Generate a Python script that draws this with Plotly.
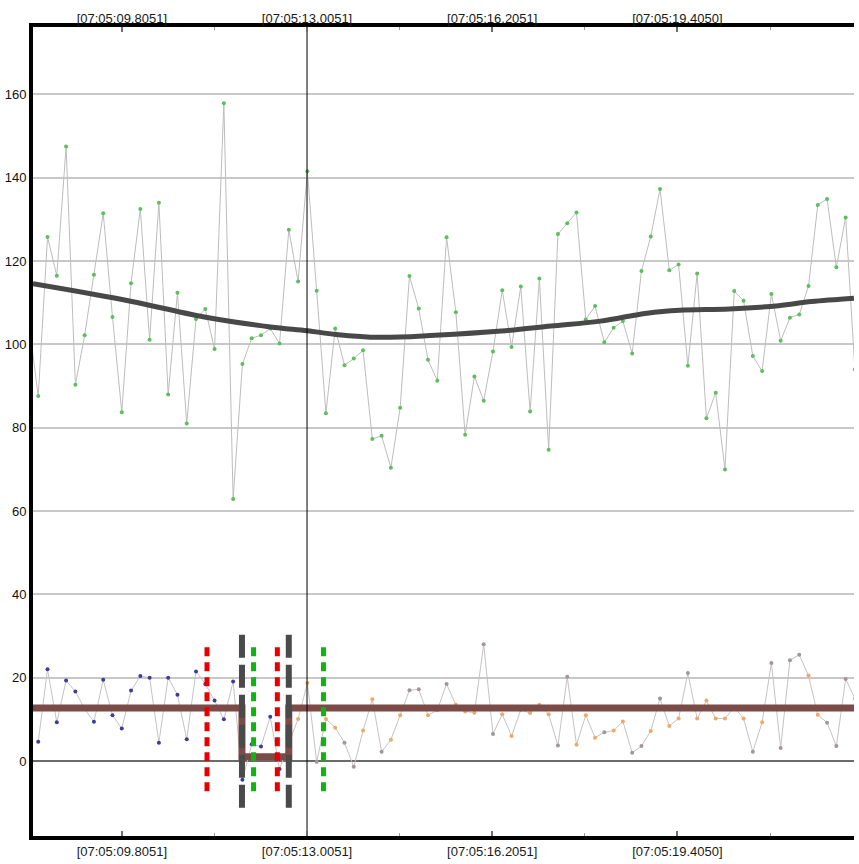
import plotly.graph_objects as go

# ---- sample grid (seconds after 07:05:00) ----
SAMPLE_START = 8.2005      # time of the sample just left of the view
SAMPLE_STEP = 0.16035
N_SAMPLES = 90
sample_times = [round(SAMPLE_START + SAMPLE_STEP * i, 4) for i in range(N_SAMPLES)]

# ---- upper (green) series, one value per sample ----
green_values = [
    105.0, 87.6, 125.8, 116.5, 147.5, 90.3, 102.2, 116.7, 131.5, 106.6,
    83.7, 114.7, 132.5, 101.1, 134.0, 88.0, 112.4, 81.0, 106.1, 108.5,
    98.9, 157.9, 62.9, 95.3, 101.5, 102.2, 103.8, 100.2, 127.5, 115.1,
    141.6, 112.9, 83.5, 103.8, 95.0, 96.6, 98.6, 77.3, 78.1, 70.4,
    84.8, 116.4, 108.6, 96.3, 91.3, 125.7, 107.7, 78.3, 92.3, 86.5,
    98.3, 113.0, 99.4, 113.9, 83.9, 115.8, 74.7, 126.5, 129.1, 131.7,
    106.0, 109.2, 100.5, 104.0, 105.6, 97.8, 117.6, 125.9, 137.3, 117.8,
    119.2, 94.9, 117.0, 82.3, 88.4, 70.0, 112.8, 110.5, 97.2, 93.6,
    112.1, 100.9, 106.4, 107.2, 114.0, 133.5, 134.9, 118.5, 130.5, 94.0,
]

# ---- lower series (starts at the 2nd sample) ----
lower_values = [
    4.6, 22.0, 9.3, 19.3, 16.7, 12.5, 9.4, 19.5, 11.0, 7.8,
    16.9, 20.4, 20.0, 4.4, 20.0, 15.9, 5.2, 21.5, 18.5, 14.5,
    10.0, 19.1, -4.5, 4.0, 3.5, 10.6, -1.9, 4.0, 10.1, 18.7,
    -0.2, 10.1, 8.0, 4.4, -1.4, 7.3, 14.8, 2.2, 5.1, 11.0,
    17.0, 17.2, 11.0, 12.2, 18.5, 13.5, 11.9, 11.6, 28.0, 6.5,
    11.2, 6.0, 12.3, 11.5, 13.5, 11.2, 3.7, 20.2, 3.9, 11.0,
    5.6, 6.9, 7.3, 9.5, 2.0, 3.6, 7.2, 15.0, 8.4, 10.2,
    21.1, 10.2, 14.5, 10.2, 10.2, 12.9, 10.2, 2.2, 9.3, 23.5,
    3.1, 24.2, 25.5, 20.5, 11.1, 9.2, 3.6, 19.7, 15.0,
]
N_BLUE = 28  # first part of the lower series drawn in blue
# kind of each later point: o = orange, g = grey
lower_kinds = list(
    "oogooggoogooggoogooog"  # 28..48
    "googooogg"              # 49..57
    "ooogooggogoogoooooog"   # 58..77
    "oggggooggg"             # 78..87
    "o"                      # 88
)

# ---- smooth trend of the upper series ----
trend_times = [8.270, 9.810, 11.231, 12.377, 13.010, 13.506, 14.259, 15.217,
               16.364, 17.219, 18.075, 18.879, 19.443, 20.299, 21.154, 21.719, 22.455]
trend_values = [114.6, 110.8, 106.6, 104.2, 103.3, 102.4, 101.7, 102.2,
                103.2, 104.4, 105.6, 107.5, 108.2, 108.5, 109.3, 110.3, 111.1]

# ---- mean level of the lower series ----
mean_times = [8.27, 11.881, 11.881, 12.690, 12.690, 22.456]
mean_values = [12.7, 12.7, 1.0, 1.0, 12.7, 12.7]

# ---- event markers ----
red_event_times = [11.277, 12.492]
green_event_times = [12.081, 13.289]
gray_event_times = [11.881, 12.690]
dot_event_span = [27.3, -8.2]
gray_event_span = [30.3, -11.5]
cursor_time = 13.0051

# ---- axis ----
x_range = [8.2702, 22.456]
y_range = [-18.0, 176.2]
tick_times = [9.8051, 13.0051, 16.2051, 19.4050]
tick_labels = ["[07:05:09.8051]", "[07:05:13.0051]", "[07:05:16.2051]", "[07:05:19.4050]"]
minor_tick_times = [11.4051, 14.6051, 17.8051, 21.0050]
y_ticks = [0, 20, 40, 60, 80, 100, 120, 140, 160]

fig = go.Figure()

# upper series
fig.add_trace(go.Scatter(
    x=sample_times, y=green_values, mode="lines+markers",
    line=dict(color="#bdbdbd", width=1),
    marker=dict(color="#5cbf5c", size=4), showlegend=False))
fig.add_trace(go.Scatter(
    x=trend_times, y=trend_values, mode="lines",
    line=dict(color="#484848", width=5, shape="spline", smoothing=1.0),
    showlegend=False))

# lower series
lower_times = sample_times[1:]
fig.add_trace(go.Scatter(
    x=lower_times, y=lower_values, mode="lines",
    line=dict(color="#c4c4c4", width=1), showlegend=False))
fig.add_trace(go.Scatter(
    x=lower_times[:N_BLUE], y=lower_values[:N_BLUE], mode="markers",
    marker=dict(color="#3c3c9c", size=4), showlegend=False))
kind_color = {"o": "#f0a868", "g": "#a39696"}
later_t = lower_times[N_BLUE:]
later_v = lower_values[N_BLUE:]
fig.add_trace(go.Scatter(
    x=later_t, y=later_v, mode="markers",
    marker=dict(color=[kind_color[k] for k in lower_kinds[:len(later_t)]], size=4),
    showlegend=False))

# mean level
fig.add_trace(go.Scatter(
    x=mean_times, y=mean_values, mode="lines",
    line=dict(color="#7d4b47", width=7), showlegend=False))

# events
for t in gray_event_times:
    fig.add_trace(go.Scatter(
        x=[t, t], y=gray_event_span, mode="lines",
        line=dict(color="#4a4a4a", width=6, dash="23px,7px"), showlegend=False))
for t in red_event_times:
    fig.add_trace(go.Scatter(
        x=[t, t], y=dot_event_span, mode="lines",
        line=dict(color="#e80000", width=5, dash="9px,6px"), showlegend=False))
for t in green_event_times:
    fig.add_trace(go.Scatter(
        x=[t, t], y=dot_event_span, mode="lines",
        line=dict(color="#10b410", width=5, dash="9px,6px"), showlegend=False))

# cursor
fig.add_trace(go.Scatter(
    x=[cursor_time, cursor_time], y=y_range, mode="lines",
    line=dict(color="#000000", width=1), showlegend=False))

# helper trace for the top label axis
fig.add_trace(go.Scatter(x=[x_range[0]], y=[y_range[0]], xaxis="x2", mode="markers",
                         marker=dict(opacity=0), showlegend=False, hoverinfo="skip"))

label_font = dict(family="Liberation Sans, Arial, sans-serif", size=13, color="#1a1a1a")

fig.update_layout(
    width=859, height=864,
    margin=dict(l=25, r=5, t=27, b=28),
    paper_bgcolor="white", plot_bgcolor="white",
    xaxis=dict(
        range=x_range, showgrid=False, zeroline=False,
        showline=True, linewidth=4, linecolor="black", mirror="ticks",
        ticks="inside", ticklen=5, tickwidth=2, tickcolor="#6e6e6e",
        tickvals=tick_times, ticktext=tick_labels, tickfont=label_font,
        minor=dict(tickvals=minor_tick_times, ticks="inside", ticklen=3,
                   tickwidth=1, tickcolor="#9a9a9a", showgrid=False),
    ),
    xaxis2=dict(
        range=x_range, overlaying="x", side="top", showgrid=False,
        zeroline=False, showline=False, ticks="",
        tickvals=tick_times, ticktext=tick_labels, tickfont=label_font,
    ),
    yaxis=dict(
        range=y_range, tickvals=y_ticks,
        showgrid=True, gridcolor="#c8c8c8", gridwidth=2,
        zeroline=True, zerolinecolor="#6a6a6a", zerolinewidth=2,
        showline=True, linewidth=4, linecolor="black", mirror=False,
        ticks="", tickfont=dict(family="Liberation Sans, Arial, sans-serif",
                                size=13, color="#111111"),
    ),
)

fig.write_html(
    "out.html",
    config={"displayModeBar": False},
    post_script="document.body.style.margin='0';document.body.style.padding='0';",
)
